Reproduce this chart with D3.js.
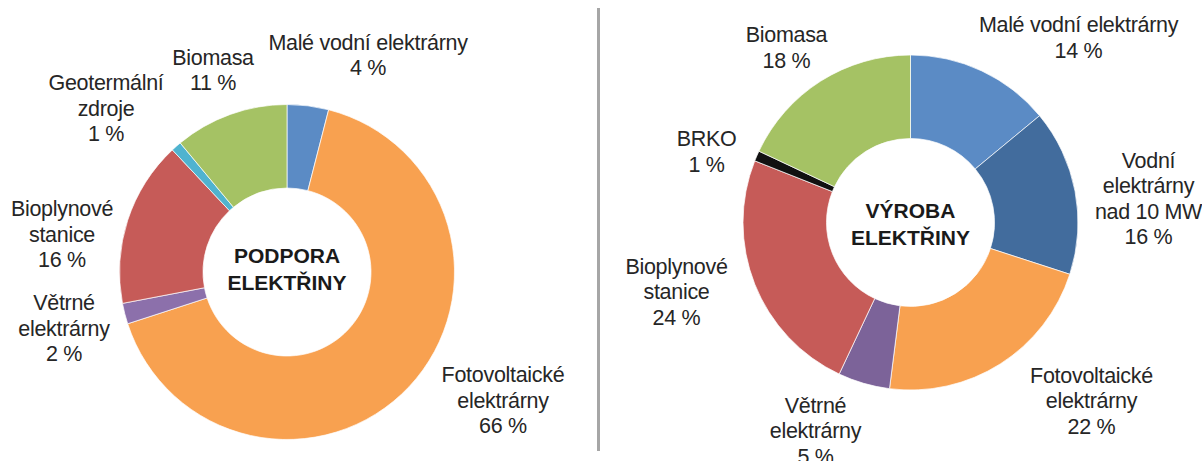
<!DOCTYPE html>
<html>
<head>
<meta charset="utf-8">
<script src="https://cdn.jsdelivr.net/npm/d3@7"></script>
<style>
  html, body { margin: 0; padding: 0; background: #fff; }
  svg text { font-family: "Liberation Sans", Arial, sans-serif; fill: #262626; }
</style>
</head>
<body>
<div id="chart"></div>
<script>
// podpora elektřiny (left)
var supportCategories = ['Malé vodní elektrárny', 'Fotovoltaické elektrárny', 'Větrné elektrárny',
    'Bioplynové stanice', 'Geotermální zdroje', 'Biomasa'];
var supportValues = [4, 66, 2, 16, 1, 11];

// výroba elektřiny (right)
var productionCategories = ['Malé vodní elektrárny', 'Vodní elektrárny nad 10 MW', 'Fotovoltaické elektrárny',
    'Větrné elektrárny', 'Bioplynové stanice', 'BRKO', 'Biomasa'];
var productionValues = [14, 16, 22, 5, 24, 1, 18];

var colorByCategory = {
    'Malé vodní elektrárny': '#5b8bc5',
    'Vodní elektrárny nad 10 MW': '#426c9d',
    'Fotovoltaické elektrárny': '#f8a150',
    'Větrné elektrárny': '#8c70ab',
    'Bioplynové stanice': '#c65b58',
    'Geotermální zdroje': '#4fb3cf',
    'BRKO': '#111111',
    'Biomasa': '#a5c264'
};

var width = 1202, height = 461;
var svg = d3.select('#chart').append('svg')
    .attr('width', width)
    .attr('height', height)
    .attr('xmlns', 'http://www.w3.org/2000/svg');

// divider between the two charts
svg.append('line')
    .attr('x1', 598.5).attr('x2', 598.5)
    .attr('y1', 8).attr('y2', 451)
    .attr('stroke', '#a6a6a6')
    .attr('stroke-width', 3);

var drawDonut = function(opts) {
    var outer = 167.5, inner = 84;
    var pie = d3.pie().sort(null).value(function(d) { return d.value; });
    var arc = d3.arc().innerRadius(inner).outerRadius(outer);
    var colors = Object.assign({}, colorByCategory, opts.colorOverrides || {});

    var data = opts.categories.map(function(c, i) {
        return { name: c, value: opts.values[i] };
    });

    var g = svg.append('g')
        .attr('transform', 'translate(' + opts.cx + ',' + opts.cy + ')');

    g.selectAll('path')
        .data(pie(data)).enter()
        .append('path')
        .attr('d', arc)
        .attr('fill', function(d) { return colors[d.data.name]; })
        .attr('stroke', '#fff')
        .attr('stroke-width', 0.7);

    // title inside the hole
    g.append('text')
        .attr('text-anchor', 'middle')
        .style('font-size', '21px')
        .style('font-weight', 'bold')
        .style('fill', '#1a1a1a')
        .selectAll('tspan').data(opts.title).enter()
        .append('tspan')
        .attr('x', 0)
        .attr('y', function(d, i) { return opts.titleY + i * 27; })
        .text(function(d) { return d; });

    // data labels, placed by hand like in the original
    var lineH = 25.5;
    g.selectAll('text.label')
        .data(pie(data)).enter()
        .append('text')
        .attr('class', 'label')
        .attr('text-anchor', 'middle')
        .style('font-size', '21.5px')
        .style('letter-spacing', '-0.3px')
        .each(function(d, i) {
            var pos = opts.labelPos[i];
            var lines = opts.labelLines[i].concat([d.data.value + ' %']);
            var top = pos[1] - (lines.length - 1) * lineH / 2 + 7.5;
            d3.select(this).selectAll('tspan')
                .data(lines).enter()
                .append('tspan')
                .attr('x', pos[0])
                .attr('y', function(l, j) { return top + j * lineH; })
                .text(function(l) { return l; });
        });
};

drawDonut({
    cx: 287, cy: 272,
    categories: supportCategories,
    values: supportValues,
    title: ['PODPORA', 'ELEKTŘINY'],
    titleY: -9,
    labelLines: [['Malé vodní elektrárny'], ['Fotovoltaické', 'elektrárny'], ['Větrné', 'elektrárny'],
        ['Bioplynové', 'stanice'], ['Geotermální', 'zdroje'], ['Biomasa']],
    labelPos: [[81, -217], [216, 128], [-223, 56], [-225, -38], [-181, -164], [-74, -202]]
});

drawDonut({
    cx: 910.5, cy: 222.5,
    categories: productionCategories,
    values: productionValues,
    title: ['VÝROBA', 'ELEKTŘINY'],
    titleY: -5,
    colorOverrides: { 'Větrné elektrárny': '#7c6399' },
    labelLines: [['Malé vodní elektrárny'], ['Vodní', 'elektrárny', 'nad 10 MW'], ['Fotovoltaické', 'elektrárny'],
        ['Větrné', 'elektrárny'], ['Bioplynové', 'stanice'], ['BRKO'], ['Biomasa']],
    labelPos: [[168, -185], [238, -24], [181, 178], [-95, 208], [-234, 69], [-204, -71], [-124, -175]]
});
</script>
</body>
</html>
